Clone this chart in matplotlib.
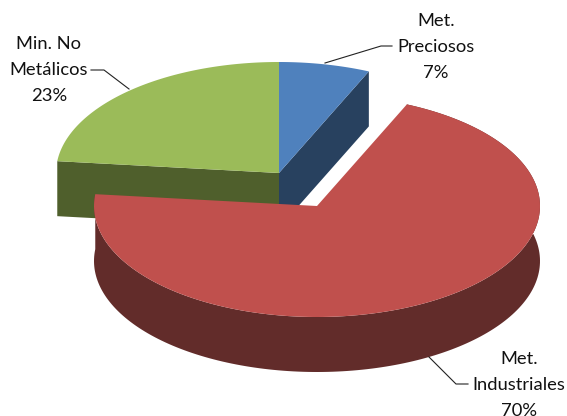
import numpy as np
import matplotlib
matplotlib.use('Agg')
import matplotlib.pyplot as plt

labels = ['Met.\nPreciosos\n7%', 'Met.\nIndustriales\n70%', 'Min. No\nMetálicos\n23%']
values = [6.6, 70.1, 23.3]
top_colors = ['#4f81bd', '#c0504d', '#9bbb59']
side_colors = ['#28415f', '#622c2a', '#4f5f2c']

rx = 223
ry = 111
depth = 55
# the red slice is pulled out of the pie
centers = [(279, 173), (317, 206), (279, 173)]

label_pos = [(436, 47), (519, 385), (49, 70)]
leaders = [
    [(325, 63), (381, 46), (392, 46)],
    [(429, 357), (456, 384), (468, 384)],
    [(129, 89), (104, 70), (91, 70)],
]


def rim(center, a1, a2):
    # angles in degrees, clockwise from 12 o'clock
    t = np.radians(np.linspace(a1, a2, 200))
    return np.column_stack((center[0] + rx * np.sin(t), center[1] - ry * np.cos(t)))


def down(pts):
    return pts + np.array([0, depth])


fig = plt.figure(figsize=(5.67, 4.16), dpi=100)
ax = fig.add_axes([0, 0, 1, 1])
ax.set_xlim(0, 567)
ax.set_ylim(416, 0)
ax.axis('off')

plt.rcParams['font.family'] = ['Lato', 'DejaVu Sans']

edges = np.cumsum([0] + values) * 3.6

# cut faces of blue and green seen through the gap
apex = np.array(centers[0], dtype=float)
blue_end = rim(centers[0], edges[0], edges[1])[-1]
blue_cut = np.array([apex, blue_end, down(blue_end), down(apex)])
ax.fill(blue_cut[:, 0], blue_cut[:, 1], color=side_colors[0], lw=0, zorder=1)

green_start = rim(centers[2], edges[2], edges[3])[0]
green_cut = np.array([apex, green_start, down(green_start), down(apex)])
ax.fill(green_cut[:, 0], green_cut[:, 1], color=side_colors[2], lw=0, zorder=1)

for i in [0, 2]:
    pts = np.vstack((centers[i], rim(centers[i], edges[i], edges[i + 1])))
    ax.fill(pts[:, 0], pts[:, 1], color=top_colors[i], lw=0, zorder=2)

# red slice, wall first then the top
edge = rim(centers[1], edges[1], edges[2])
wall = np.vstack((edge, down(edge)[::-1]))
ax.fill(wall[:, 0], wall[:, 1], color=side_colors[1], lw=0, zorder=3)
pts = np.vstack((centers[1], edge))
ax.fill(pts[:, 0], pts[:, 1], color=top_colors[1], lw=0, zorder=4)

for line in leaders:
    xs, ys = zip(*line)
    ax.plot(xs, ys, color='#222222', lw=0.8, zorder=5)

for txt, pos in zip(labels, label_pos):
    ax.text(pos[0], pos[1], txt, ha='center', va='center', fontsize=13.2,
            color='#111111', linespacing=1.76, zorder=6, clip_on=False)

fig.savefig('out.png', dpi=100)
